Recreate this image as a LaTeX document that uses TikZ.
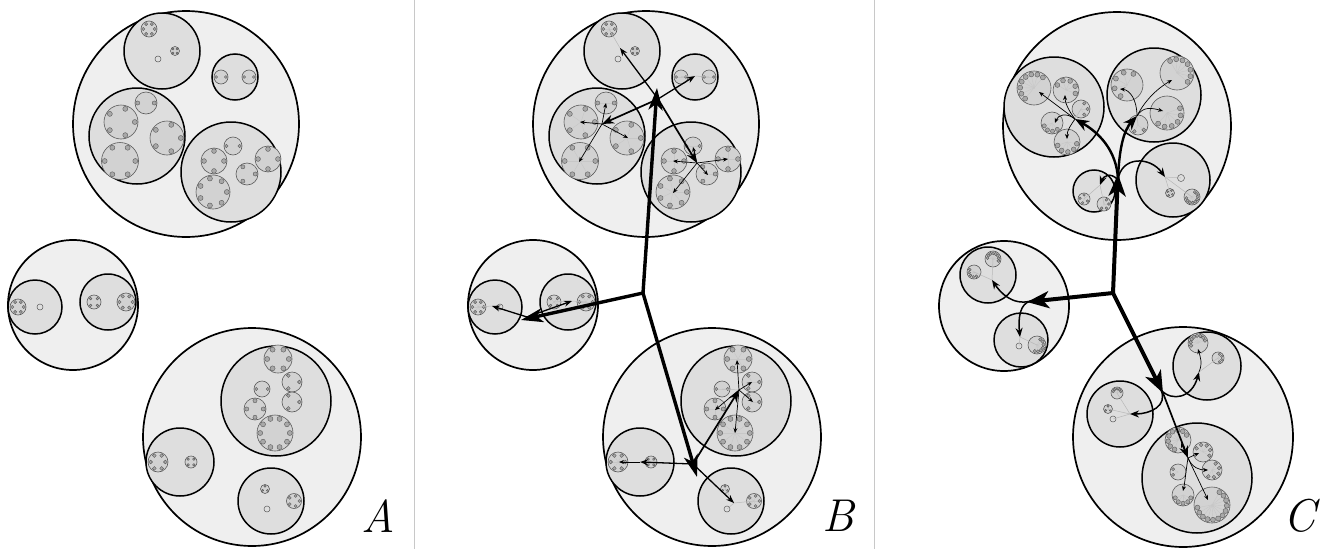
\documentclass[tikz,border=0pt]{standalone}
\usetikzlibrary{arrows.meta}
\definecolor{bigfill}{HTML}{EFEFEF}
\definecolor{subfill}{HTML}{DEDEDE}
\definecolor{smfill}{HTML}{D2D2D2}
\definecolor{dotfill}{HTML}{A8A8A8}
\definecolor{smedge}{HTML}{5A5A5A}
\definecolor{sepcol}{HTML}{C8C8C8}
\tikzset{
 bigc/.style={fill=bigfill,draw=black,line width=1.7pt},
 subc/.style={fill=subfill,draw=black,line width=1.5pt},
 smallc/.style={fill=smfill,draw=smedge,line width=0.6pt},
 emptyc/.style={fill=subfill,draw=smedge,line width=0.5pt},
 dotc/.style={fill=dotfill,draw=smedge,line width=0.4pt},
 spoke/.style={draw=black!22,line width=0.4pt},
 faint/.style={draw=black!28,line width=0.5pt},
 thickarr/.style={line width=3.4pt,line cap=round,-{Stealth[length=22pt,width=14pt,inset=6pt]}},
 thickarrC/.style={line width=4pt,line cap=round,-{Stealth[length=22pt,width=17pt,inset=6pt]}},
 medarr/.style={line width=1.3pt,-{Stealth[length=8pt,width=6pt]}},
 medarrb/.style={line width=1.7pt,-{Stealth[length=12pt,width=9pt]}},
 bigcurve/.style={line width=2.4pt,-{Stealth[length=14pt,width=11pt]}},
 medcurve/.style={line width=1.5pt,-{Stealth[length=9pt,width=7pt]}},
 thinarr/.style={line width=0.7pt,-{Stealth[length=5pt,width=4pt]}},
 sep/.style={draw=sepcol,line width=1pt},
 lab/.style={font=\fontsize{46}{46}\selectfont\itshape,inner sep=0pt}
}
\newif\ifdcspoke
\newif\ifpanelspokes
\newcommand\Dcgen[6]{%
 \path[smallc] (#1,#2) circle (#3pt);
 \pgfmathsetlengthmacro\dcr{min(2.5,0.16*#3+0.3)}%
 \pgfmathsetlengthmacro\dcd{#3-min(2.5,0.16*#3+0.3)-0.7}%
 \ifdcspoke
 \foreach \k in {1,...,#4}{%
   \pgfmathsetmacro\dca{#5+((#6)-(#5))*(\k-1)/max(1,#4-1)}%
   \draw[spoke] (#1,#2) -- ++(\dca:\dcd);}%
 \fi
 \foreach \k in {1,...,#4}{%
   \pgfmathsetmacro\dca{#5+((#6)-(#5))*(\k-1)/max(1,#4-1)}%
   \path[dotc] (#1,#2) ++(\dca:\dcd) circle (\dcr);}%
}
\newcommand\Dc[6]{\dcspokefalse\Dcgen{#1}{#2}{#3}{#4}{#5}{#6}}
\newcommand\Dcs[6]{\dcspoketrue\Dcgen{#1}{#2}{#3}{#4}{#5}{#6}}
\newcommand\Dcf[5]{\ifpanelspokes\dcspoketrue\else\dcspokefalse\fi\Dcgen{#1}{#2}{#3}{#4}{#5}{#5+360-360/#4}}
\newcommand\Ec[3]{\path[emptyc] (#1,#2) circle (#3pt);}
\newcommand\panelAB{%
 % top group
 \path[bigc] (186,124) circle (113pt);
 \path[subc] (162,51) circle (38pt);
 \path[subc] (235,77) circle (23pt);
 \path[subc] (137,136) circle (48pt);
 \path[subc] (231,172) circle (50pt);
 \Dcf{149}{29}{8}{6}{0}
 \Dcf{175}{51}{4.5}{4}{45}
 \Ec{158}{59}{3}
 \Dcf{221}{77}{7}{2}{0}
 \Dcf{249}{77}{7}{2}{0}
 \Dcf{146}{103}{11}{2}{0}
 \Dcf{121}{122}{17}{5}{0}
 \Dcf{167}{138}{17}{5}{0}
 \Dcf{120}{161}{18.5}{6}{0}
 \Dcf{233}{146}{9}{2}{0}
 \Dcf{214}{161}{13}{4}{0}
 \Dcf{268}{159}{13}{4}{0}
 \Dcf{247}{174}{11}{3}{0}
 \Dcf{213}{192}{17}{7}{0}
 % left group
 \path[bigc] (73,305) circle (65pt);
 \path[subc] (35,307) circle (27pt);
 \path[subc] (108,302) circle (28pt);
 \Dcf{18}{307}{8}{6}{0}
 \Ec{40}{307}{3}
 \Dcf{94}{302}{7}{4}{45}
 \Dcf{126}{302}{9}{6}{0}
 % bottom group
 \path[bigc] (252,437) circle (109pt);
 \path[subc] (276,401) circle (55pt);
 \path[subc] (180,462) circle (34pt);
 \path[subc] (271,501) circle (33pt);
 \Dcf{278}{359}{14}{6}{0}
 \Dcf{292}{382}{10}{3}{0}
 \Dcf{262}{389}{8}{2}{0}
 \Dcf{292}{402}{10}{3}{0}
 \Dcf{255}{409}{11}{4}{0}
 \Dcf{275}{433}{18}{10}{0}
 \Dcf{158}{462}{10}{6}{0}
 \Dcf{191}{462}{6}{4}{45}
 \Dcf{265}{489}{4.5}{3}{90}
 \Dcf{294}{501}{7.5}{5}{0}
 \Ec{267}{509}{3}
}
\begin{document}
\begin{tikzpicture}[x=1pt,y=-1pt]
\useasboundingbox (0,0) rectangle (1323,549);
% separators
\coordinate (s1t) at (414,0); \coordinate (s1b) at (414,549);
\coordinate (s2t) at (874,0); \coordinate (s2b) at (874,549);
\draw[sep] (s1t) -- (s1b);
\draw[sep] (s2t) -- (s2b);
% ---------------- Panel A
\panelspokesfalse
\panelAB
\node[lab] (labA) at (378,516) {A};
% ---------------- Panel B
\begin{scope}[xshift=460pt]
\panelspokestrue
\panelAB
\end{scope}
\node[lab] (labB) at (838,516) {B};
\coordinate (JB) at (643,293);
\coordinate (TB) at (657,88);
\coordinate (TBo) at (658,99);
\coordinate (LB) at (521,320);
\coordinate (LBo) at (527,317);
\coordinate (DB) at (697,477);
\coordinate (DBo) at (693,464);
\coordinate (b1) at (620,48);
\coordinate (b2) at (695,76);
\coordinate (b3) at (602,124);
\coordinate (b4) at (697,163);
\coordinate (b5) at (492,306);
\coordinate (b6) at (572,301);
\coordinate (b7) at (739,390);
\coordinate (b8) at (640,462);
\coordinate (b9) at (734,503);
% faint links
\draw[faint] (b1) -- (609,29);
\draw[faint] (b2) -- (681,77); \draw[faint] (b2) -- (709,77);
\draw[faint] (b5) -- (478,307);
\draw[faint] (b6) -- (554,302); \draw[faint] (b6) -- (586,302);
\draw[faint] (b9) -- (725,489); \draw[faint] (b9) -- (754,501); \draw[faint] (b9) -- (727,509);
\draw[faint] (b7) -- (722,389);
% thin arrows
\foreach \p in {(580,122),(606,103),(628,138),(579,162)} \draw[thinarr] (b3) -- \p;
\foreach \p in {(673,161),(728,159),(708,175),(673,193),(693,147)} \draw[thinarr] (b4) -- \p;
\foreach \p in {(737,360),(752,382),(753,402),(715,410),(735,433)} \draw[thinarr] (b7) -- \p;
\draw[thinarr] (b8) -- (619,462);
% medium arrows
\draw[medarr] (TBo) -- (b1);
\draw[medarr] (TBo) -- (b2);
\draw[medarrb] (TBo) -- (b3);
\draw[medarrb] (TBo) -- (b4);
\draw[medarr] (LBo) -- (b5);
\draw[medarr] (LBo) -- (b6);
\draw[medarrb] (DBo) -- (b7);
\draw[medarr] (DBo) -- (b8);
\draw[medarr] (DBo) -- (b9);
% thick arrows
\draw[thickarr] (JB) -- (TB);
\draw[thickarr] (JB) -- (LB);
\draw[thickarr] (JB) -- (DB);
% ---------------- Panel C
\dcspoketrue
% top group
\path[bigc] (1117,126) circle (114pt);
\path[subc] (1054,107) circle (50pt);
\path[subc] (1154,95) circle (47pt);
\path[subc] (1173,180) circle (37pt);
\path[subc] (1094,191) circle (21pt);
\Dcs{1034}{88}{17}{8}{50}{230}
\Dcs{1066}{90}{13}{5}{150}{-20}
\Dcs{1081}{109}{9}{3}{60}{-60}
\Dcs{1052}{123}{11}{4}{200}{310}
\Dcs{1067}{142}{13}{5}{200}{350}
\Dcs{1127}{85}{16}{5}{60}{240}
\Dcs{1177}{73}{17}{7}{120}{-40}
\Dcs{1167}{113}{17}{6}{20}{-130}
\Dcs{1138}{125}{10}{2}{-40}{-120}
\Ec{1181}{178}{3.5}
\Dcs{1170}{193}{4.5}{4}{-30}{240}
\Dcs{1192}{197}{8}{9}{60}{-170}
\Dcs{1084}{199}{6}{4}{90}{330}
\Dcs{1104}{204}{7}{4}{-120}{60}
% left group
\path[bigc] (1004,306) circle (65pt);
\path[subc] (988,275) circle (28pt);
\path[subc] (1021,340) circle (27pt);
\Dcs{993}{259}{8}{8}{170}{-20}
\Dcs{974}{272}{7}{5}{150}{300}
\Ec{1019}{346}{3}
\Dcs{1037}{345}{9}{7}{60}{-110}
% bottom group
\path[bigc] (1183,437) circle (110pt);
\path[subc] (1207,366) circle (34pt);
\path[subc] (1120,414) circle (33pt);
\path[subc] (1197,478) circle (55pt);
\Dcs{1198}{343}{10}{8}{20}{200}
\Dcs{1218}{358}{6}{4}{70}{-70}
\Dcs{1117}{393}{6}{5}{20}{160}
\Dcs{1108}{409}{4.5}{3}{90}{330}
\Ec{1113}{419}{3}
\Dcs{1178}{440}{13}{8}{30}{250}
\Dcs{1203}{452}{10}{5}{150}{-30}
\Dcs{1212}{470}{10}{5}{60}{-120}
\Dcs{1178}{472}{8}{2}{150}{210}
\Dcs{1183}{495}{11}{5}{200}{340}
\Dcs{1212}{505}{18}{12}{60}{-170}
\node[lab] (labC) at (1300,516) {C};
% C coordinates
\coordinate (JC) at (1113,293);
\coordinate (TC) at (1118,174);
\coordinate (TCo) at (1118,180);
\coordinate (LC) at (1027,302);
\coordinate (LCo) at (1031,301);
\coordinate (DC) at (1163,393);
\coordinate (DCo) at (1161,390);
\coordinate (c1) at (1075,119);
\coordinate (c2) at (1137,116);
\coordinate (c3) at (1165,177);
\coordinate (c4) at (1100,185);
\coordinate (c5) at (992,280);
\coordinate (c6) at (1020,337);
\coordinate (c7) at (1130,414);
\coordinate (c8) at (1199,372);
\coordinate (c9) at (1188,458);
% faint links
\draw[faint] (c1) -- (1081,109);
\draw[faint] (c2) -- (1138,125);
\foreach \p in {(1181,178),(1170,193),(1192,197)} \draw[faint] (c3) -- \p;
\foreach \p in {(1084,199),(1104,204)} \draw[faint] (c4) -- \p;
\foreach \p in {(993,259),(974,272)} \draw[faint] (c5) -- \p;
\foreach \p in {(1037,345),(1019,346)} \draw[faint] (c6) -- \p;
\foreach \p in {(1117,393),(1108,409),(1113,419)} \draw[faint] (c7) -- \p;
\draw[faint] (c8) -- (1218,358);
% thin arrows
\draw[thinarr] (c1) -- (1039,92);
\draw[thinarr] (c1) .. controls (1068,110) and (1065,102) .. (1065,95);
\draw[thinarr] (c1) .. controls (1066,112) and (1058,115) .. (1055,123);
\draw[thinarr] (c1) .. controls (1071,125) and (1067,130) .. (1067,139);
\draw[thinarr] (c2) .. controls (1137,100) and (1130,90) .. (1120,89);
\draw[thinarr] (c2) .. controls (1145,100) and (1158,88) .. (1172,80);
\draw[thinarr] (c2) .. controls (1143,106) and (1152,108) .. (1163,111);
\draw[thinarr] (c8) .. controls (1203,363) and (1200,356) .. (1198,349);
\draw[thinarr] (c9) -- (1208,500);
\draw[thinarr] (c9) -- (1181,443);
\draw[thinarr] (c9) -- (1199,453);
\draw[thinarr] (c9) .. controls (1192,468) and (1200,470) .. (1208,470);
\draw[thinarr] (c9) .. controls (1186,470) and (1185,482) .. (1183,491);
% medium curves
\draw[bigcurve] (TCo) .. controls (1117,150) and (1098,132) .. (c1);
\draw[bigcurve] (TCo) .. controls (1119,148) and (1124,130) .. (c2);
\draw[medcurve] (TCo) .. controls (1121,156) and (1150,156) .. (c3);
\draw[medcurve] (TCo) .. controls (1110,171) and (1103,177) .. (c4);
\draw[medcurve] (LCo) .. controls (1012,306) and (1000,292) .. (c5);
\draw[medcurve] (LCo) .. controls (1020,303) and (1018,318) .. (c6);
\draw[medcurve] (DCo) .. controls (1168,406) and (1150,414) .. (c7);
\draw[medcurve] (DCo) .. controls (1172,402) and (1192,398) .. (c8);
\draw[medarrb] (DC) -- (c9);
% thick arrows
\draw[thickarrC] (JC) -- (TC);
\draw[thickarrC] (JC) -- (LC);
\draw[thickarrC] (JC) -- (DC);
\end{tikzpicture}
\end{document}
